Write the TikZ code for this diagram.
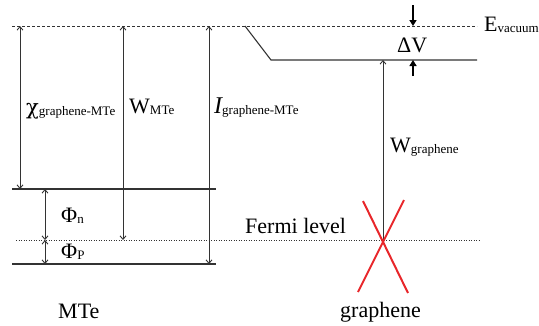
\documentclass[tikz,border=0pt]{standalone}
\usepackage{fontspec}
\setmainfont{Liberation Serif}
\newfontfamily\grk{DejaVu Serif}
\usetikzlibrary{arrows.meta}
\definecolor{lvl}{HTML}{333333}
\definecolor{xred}{HTML}{E8262A}
\tikzset{
  level/.style={draw=lvl, line width=1.1pt},
  vac/.style={draw=lvl, line width=0.9pt, dash pattern=on 3pt off 2pt},
  fermi/.style={draw=lvl, line width=1pt, dash pattern=on 1.2pt off 1.3pt},
  dim/.style={draw=lvl, line width=0.9pt, {Straight Barb[length=3.5pt,width=6pt]}-{Straight Barb[length=3.5pt,width=6pt]}},
  updim/.style={draw=lvl, line width=0.9pt, -{Straight Barb[length=3.5pt,width=6pt]}},
  bold/.style={draw=black, line width=1.6pt, -{Triangle[length=6pt,width=7pt]}},
  cone/.style={draw=xred, line width=2pt},
  lab/.style={anchor=base west, inner sep=0pt, font=\fontsize{22}{26}\selectfont},
}
\newcommand{\sbs}[1]{\raisebox{-1.5pt}{\fontsize{13}{15}\selectfont #1}}
\begin{document}
\begin{tikzpicture}[x=1pt,y=-1pt]
\useasboundingbox (0,0) rectangle (539,325);
% level coordinates
\coordinate (vacL) at (12,26);
\coordinate (vacR) at (477,26);
\coordinate (slT) at (245,26);
\coordinate (slB) at (271,60);
\coordinate (gvR) at (477,60);
\coordinate (cbL) at (12,189);
\coordinate (cbR) at (216,189);
\coordinate (vbL) at (12,264);
\coordinate (vbR) at (216,264);
\coordinate (fL) at (16,240);
\coordinate (fR) at (480,240);
% levels
\draw[vac] (vacL) -- (vacR);
\draw[level] (slT) -- (slB) -- (gvR);
\draw[level] (cbL) -- (cbR);
\draw[level] (vbL) -- (vbR);
\draw[fermi] (fL) -- (fR);
% arrow end points
\coordinate (chiT) at (20,26);
\coordinate (chiB) at (20,189);
\coordinate (wT) at (123,26);
\coordinate (wB) at (123,240);
\coordinate (iT) at (209,26);
\coordinate (iB) at (209,264);
\coordinate (pnT) at (45,189);
\coordinate (pnB) at (45,240);
\coordinate (ppB) at (45,264);
\coordinate (wgB) at (383,240);
\coordinate (wgT) at (383,60);
\coordinate (dvA) at (413,5);
\coordinate (dvB) at (413,26);
\coordinate (dvC) at (413,76);
\coordinate (dvD) at (413,60);
% arrows
\draw[dim] (chiT) -- (chiB);
\draw[dim] (wT) -- (wB);
\draw[dim] (iT) -- (iB);
\draw[dim] (pnT) -- (pnB);
\draw[dim] (pnB) -- (ppB);
\draw[updim] (wgB) -- (wgT);
\draw[bold] (dvA) -- (dvB);
\draw[bold] (dvC) -- (dvD);
% graphene cone
\coordinate (c1) at (363,201);
\coordinate (c2) at (408,293);
\coordinate (c3) at (404,200);
\coordinate (c4) at (358,292);
\draw[cone] (c1) -- (c2);
\draw[cone] (c3) -- (c4);
% labels
\node[lab] (chi) at (26,114) {{\grk\fontsize{21}{26}\selectfont χ}\sbs{graphene-MTe}};
\node[lab] (wm) at (129,113) {W\sbs{MTe}};
\node[lab] (ig) at (214,113) {\fontsize{24}{28}\selectfont\itshape I\upshape\sbs{graphene-MTe}};
\node[lab] (wg) at (390,152) {W\sbs{graphene}};
\node[lab] (ev) at (484,31) {E\sbs{vacuum}};
\node[lab] (dv) at (397,52) {ΔV};
\node[lab] (phn) at (61,222) {Φ\sbs{n}};
\node[lab] (php) at (61,258) {Φ\sbs{P}};
\node[lab] (fl) at (245,233) {Fermi level};
\node[lab] (mte) at (58,318) {MTe};
\node[lab] (gr) at (340,317) {graphene};
\end{tikzpicture}
\end{document}
